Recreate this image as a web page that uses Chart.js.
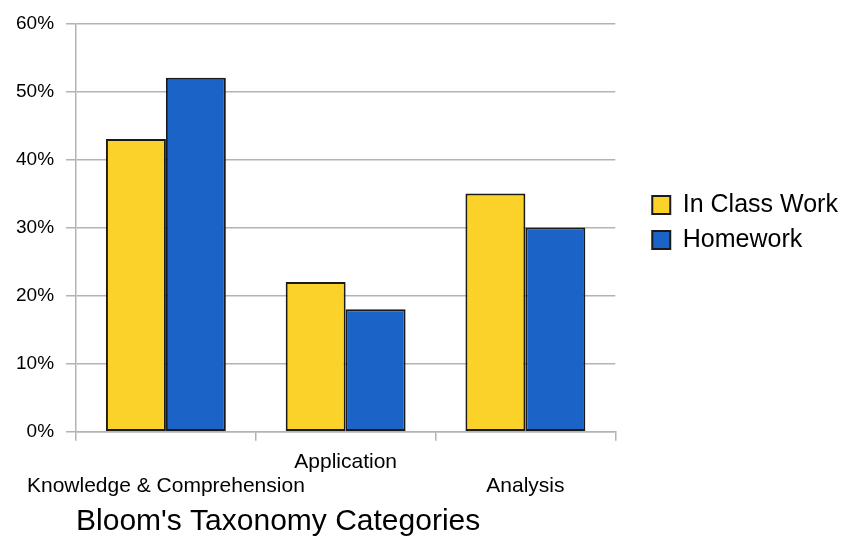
<!DOCTYPE html>
<html>
<head>
<meta charset="utf-8">
<script src="https://cdn.jsdelivr.net/npm/chart.js"></script>
<style>
  html, body { margin: 0; padding: 0; background: #fff; }
  #wrap { width: 843px; height: 537px; }
</style>
</head>
<body>
<div id="wrap"><canvas id="bloom-chart" width="843" height="537"></canvas></div>
<script>
const categories = ["Knowledge & Comprehension", "Application", "Analysis"];
const inClassWork = [43, 22, 35];
const homework = [52, 18, 30];
const yTicks = [0, 10, 20, 30, 40, 50, 60];

const gridGray = "#b3b3b3";
const font = "'Liberation Sans', Arial, sans-serif";

// the legend sits a bit away from the plot, move it after layout
const legendNudge = {
  id: "legendNudge",
  afterLayout(chart, args, opts) {
    const lg = chart.legend;
    if (!lg) return;
    lg.left += opts.dx;
    lg.right += opts.dx;
    lg.top += opts.dy;
    lg.bottom += opts.dy;
  },
};

const chelt = document.getElementById("bloom-chart");
const chart = new Chart(chelt, {
  type: "bar",
  data: {
    labels: categories,
    datasets: [
      {
        label: "In Class Work",
        data: inClassWork,
        backgroundColor: "#fad22a",
        borderColor: "#1a1a1a",
        borderWidth: 2,
        borderSkipped: false,
      },
      {
        label: "Homework",
        data: homework,
        backgroundColor: "#1b63c6",
        borderColor: "#1a1a1a",
        borderWidth: 2,
        borderSkipped: false,
      },
    ],
  },
  plugins: [legendNudge],
  options: {
    responsive: false,
    animation: false,
    devicePixelRatio: 1,
    layout: { padding: { top: 12, left: 4, right: 24, bottom: 0 } },
    datasets: {
      bar: { categoryPercentage: 0.667, barPercentage: 1.0 },
    },
    plugins: {
      tooltip: { enabled: false },
      legendNudge: { dx: 27, dy: -5 },
      legend: {
        position: "right",
        fullSize: false,
        labels: {
          color: "#000",
          font: { family: font, size: 25 },
          boxWidth: 18,
          boxHeight: 18,
          padding: 10,
        },
      },
    },
    scales: {
      x: {
        offset: true,
        grid: {
          offset: true,
          // only the right-hand frame line goes through the plot, all boundaries get a tick
          color: (ctx) => (ctx.index === categories.length ? gridGray : "rgba(0,0,0,0)"),
          tickColor: gridGray,
          lineWidth: 1.5,
          tickLength: 9,
          tickWidth: 1.5,
        },
        border: { color: gridGray, width: 1.5 },
        ticks: {
          color: "#000",
          font: { family: font, size: 21, lineHeight: 1.15 },
          maxRotation: 0,
          minRotation: 0,
          autoSkip: false,
          padding: 9,
          // staggered labels like the original
          callback: (v, i) => (i % 2 ? [categories[i], ""] : ["", categories[i]]),
        },
        title: {
          display: true,
          text: "Bloom's Taxonomy Categories",
          align: "start",
          color: "#000",
          font: { family: font, size: 30, lineHeight: 1.0 },
          padding: { top: 0, bottom: 0 },
        },
      },
      y: {
        min: 0,
        max: 60,
        afterBuildTicks: (axis) => {
          axis.ticks = yTicks.map((v) => ({ value: v }));
        },
        grid: { color: gridGray, lineWidth: 1.5, tickLength: 10 },
        border: { color: gridGray, width: 1.5 },
        ticks: {
          color: "#000",
          font: { family: font, size: 19 },
          padding: 12,
          callback: (v) => v + "%",
        },
      },
    },
  },
});
</script>
</body>
</html>
